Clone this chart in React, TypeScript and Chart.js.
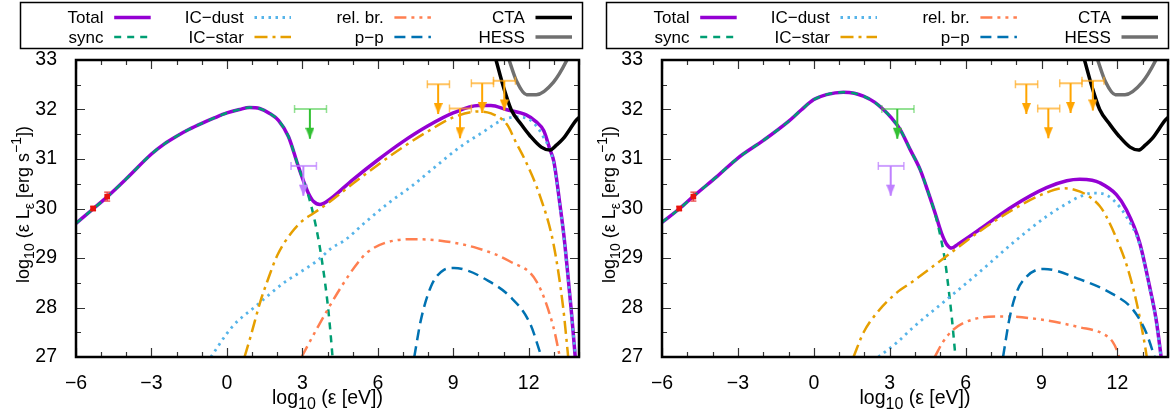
import React, { useEffect, useRef } from 'react';
import { Chart, registerables } from 'chart.js';
Chart.register(...registerables);

const FONT = '"Liberation Sans", Arial, Helvetica, sans-serif';

// ---------- axes ----------
const xMin = -6, xMax = 14, yMin = 27, yMax = 33;
const xTicks = [-6, -3, 0, 3, 6, 9, 12];
const yTicks = [27, 28, 29, 30, 31, 32, 33];
const xMinorStep = 1, yMinorStep = 0.5;

// ---------- text ----------
const legendLabels = ['Total', 'sync', 'IC\u2212dust', 'IC\u2212star', 'rel. br.', 'p\u2212p', 'CTA', 'HESS'];
const yTitle: [string, string][] = [['log', 'n'], ['10', 'sub'], [' (\u03b5 L', 'n'], ['\u03b5', 'sub'], [' [erg s', 'n'], ['\u22121', 'sup'], ['])', 'n']];
const xTitle: [string, string][] = [['log', 'n'], ['10', 'sub'], [' (\u03b5 [eV])', 'n']];

// ---------- left panel ----------
const totalL_x = [-6, -5.3, -4.75, -4, -3, -2.5, -2, -1.5, -1, -0.5, 0, 0.5, 0.9, 1.3, 1.7, 2.05, 2.45, 2.84, 3.05, 3.24, 3.45, 3.7, 4.0, 5, 6, 7, 8, 9, 10, 10.5, 11.1, 11.9, 12.3, 12.6, 12.84, 13.0, 13.25, 13.4, 13.55, 13.7, 13.85];
const totalL_y = [29.7, 30.0, 30.24, 30.6, 31.1, 31.3, 31.46, 31.6, 31.72, 31.83, 31.93, 32.0, 32.04, 32.02, 31.92, 31.78, 31.45, 30.85, 30.55, 30.31, 30.14, 30.08, 30.15, 30.58, 30.98, 31.35, 31.67, 31.93, 32.08, 32.08, 32.0, 31.89, 31.75, 31.57, 31.2, 30.95, 30.05, 29.45, 28.7, 27.9, 27.0];
const syncL_x = [-6, -5.3, -4.75, -4, -3, -2.5, -2, -1.5, -1, -0.5, 0, 0.5, 0.9, 1.3, 1.7, 2.05, 2.45, 2.84, 3.05, 3.24, 3.45, 3.65, 3.85, 4.0, 4.1, 4.2];
const syncL_y = [29.7, 30.0, 30.24, 30.6, 31.1, 31.3, 31.46, 31.6, 31.72, 31.83, 31.93, 32.0, 32.04, 32.02, 31.92, 31.78, 31.45, 30.85, 30.54, 30.26, 29.85, 29.35, 28.7, 28.1, 27.6, 27.0];
const dustL_x = [-0.64, 0.21, 1.13, 2.32, 2.84, 3.63, 4.16, 4.69, 5.5, 6.4, 7.32, 8.3, 9.29, 10.2, 10.7, 11.13, 11.5, 12.05, 12.58, 12.98, 13.25, 13.4, 13.55, 13.7, 13.86];
const dustL_y = [27.0, 27.61, 28.02, 28.52, 28.69, 28.96, 29.2, 29.36, 29.72, 30.1, 30.44, 30.85, 31.25, 31.55, 31.72, 31.82, 31.85, 31.79, 31.45, 30.95, 30.02, 29.42, 28.67, 27.87, 27.0];
const starL_x = [0.7, 0.94, 1.33, 1.6, 2.0, 2.58, 3.0, 3.43, 4, 5, 6, 7, 8, 9, 10, 10.5, 11.13, 11.5, 11.92, 12.45, 12.98, 13.37, 13.57];
const starL_y = [27.0, 27.41, 28.12, 28.52, 29.05, 29.52, 29.75, 29.9, 30.1, 30.5, 30.88, 31.24, 31.56, 31.84, 31.96, 31.92, 31.7, 31.33, 30.91, 30.25, 29.3, 28.0, 27.0];
const relL_x = [2.97, 3.63, 4.55, 5.2, 5.6, 6.26, 7.32, 8.5, 9.95, 11.26, 12.32, 12.98, 13.24];
const relL_y = [27.0, 27.62, 28.42, 28.9, 29.12, 29.3, 29.38, 29.35, 29.2, 28.93, 28.52, 27.61, 27.0];
const ppL_x = [7.45, 7.71, 8.11, 8.63, 9.03, 9.6, 10.21, 11.26, 12.05, 12.51];
const ppL_y = [27.0, 27.74, 28.42, 28.76, 28.8, 28.74, 28.59, 28.22, 27.68, 27.0];

// ---------- right panel ----------
const totalR_x = [-6, -5.3, -4.75, -3.82, -3, -1.98, -1, -0.5, 0, 0.5, 1.17, 1.6, 1.96, 2.4, 2.75, 3.05, 3.41, 3.8, 4.2, 4.5, 4.8, 5.05, 5.25, 5.45, 5.7, 6.56, 7.88, 9.2, 10.0, 10.51, 11.0, 11.3, 11.96, 12.35, 12.88, 13.27, 13.53, 13.73];
const totalR_y = [29.72, 30.0, 30.25, 30.65, 31.02, 31.38, 31.76, 31.99, 32.2, 32.3, 32.35, 32.33, 32.27, 32.15, 32.0, 31.84, 31.6, 31.2, 30.79, 30.36, 29.9, 29.5, 29.28, 29.2, 29.28, 29.58, 30.05, 30.42, 30.56, 30.59, 30.57, 30.52, 30.28, 29.98, 29.31, 28.43, 27.76, 27.0];
const syncR_x = [-6, -5.3, -4.75, -3.82, -3, -1.98, -1, -0.5, 0, 0.5, 1.17, 1.6, 1.96, 2.4, 2.75, 3.05, 3.41, 3.8, 4.2, 4.5, 4.8, 5.05, 5.2, 5.31, 5.45, 5.6];
const syncR_y = [29.72, 30.0, 30.25, 30.65, 31.02, 31.38, 31.76, 31.99, 32.2, 32.3, 32.35, 32.33, 32.27, 32.15, 32.0, 31.84, 31.6, 31.2, 30.79, 30.36, 29.88, 29.33, 28.9, 28.45, 27.82, 27.0];
const dustR_x = [2.55, 3.28, 3.93, 5.25, 6.56, 7.88, 9.2, 10.0, 10.51, 11.03, 11.4, 11.82, 12.35, 12.88, 13.27, 13.53, 13.72];
const dustR_y = [27.0, 27.29, 27.6, 28.16, 28.72, 29.31, 29.84, 30.1, 30.24, 30.31, 30.3, 30.18, 29.84, 29.27, 28.4, 27.73, 27.0];
const starR_x = [1.57, 1.96, 2.49, 3.28, 3.9, 5.25, 6.56, 7.88, 9.2, 9.9, 10.3, 10.77, 11.3, 11.56, 12.09, 12.4, 12.75, 13.1, 13.16];
const starR_y = [27.0, 27.49, 27.89, 28.3, 28.52, 29.04, 29.54, 29.98, 30.32, 30.41, 30.38, 30.28, 30.05, 29.84, 29.24, 28.8, 28.12, 27.2, 27.0];
const relR_x = [4.78, 5.1, 5.51, 6.3, 7.48, 8.93, 10.51, 11.43, 11.82, 12.02, 12.06];
const relR_y = [27.0, 27.3, 27.55, 27.76, 27.82, 27.76, 27.6, 27.47, 27.3, 27.08, 27.0];
const ppR_x = [7.48, 7.75, 8.05, 8.4, 8.8, 9.1, 10.51, 11.82, 12.61, 13.14, 13.47];
const ppR_y = [27.0, 27.82, 28.35, 28.62, 28.76, 28.78, 28.57, 28.27, 27.96, 27.49, 27.0];

// ---------- sensitivities (both panels) ----------
const cta_x = [10.7, 11.0, 11.3, 11.7, 12.05, 12.5, 12.84, 13.1, 13.37, 13.9, 14.0];
const cta_y = [33.0, 32.45, 32.0, 31.7, 31.47, 31.24, 31.18, 31.28, 31.41, 31.79, 31.84];
const hess_x = [11.22, 11.53, 11.92, 12.3, 12.98, 13.5, 13.56];
const hess_y = [33.0, 32.56, 32.3, 32.3, 32.55, 32.98, 33.05];

// ---------- measurements (both panels) ----------
const obs_x = [-5.32, -4.76];
const obs_y = [30.0, 30.24];
const obs_err = [0.04, 0.09];

// ---------- upper limits (both panels) ----------
const ulGreen = { x: [3.3], lo: [2.69], hi: [3.96], y: [32.01] };
const ulViolet = { x: [3.04], lo: [2.55], hi: [3.56], y: [30.86] };
const ulOrange = { x: [8.4, 9.27, 10.15, 11.03], lo: [7.97, 8.85, 9.72, 10.6], hi: [8.85, 9.72, 10.6, 11.47], y: [32.51, 32.02, 32.53, 32.58] };
const ulDrop = 0.6;

// ---------- styles ----------
type St = { color: string; width: number; dash: number[] };
const styles: St[] = [
  { color: '#9400d3', width: 3.5, dash: [] },          // Total
  { color: '#009e73', width: 2.5, dash: [7, 6] },      // sync
  { color: '#56b4e9', width: 2.8, dash: [2.5, 4.5] },  // IC-dust
  { color: '#e69f00', width: 2.5, dash: [13, 5, 3, 5] }, // IC-star
  { color: '#ff7f50', width: 2.5, dash: [12, 5, 3, 5, 3, 5] }, // rel. br.
  { color: '#0072b2', width: 2.5, dash: [11, 6] },     // p-p
  { color: '#000000', width: 3.5, dash: [] },          // CTA
  { color: '#707070', width: 3.5, dash: [] },          // HESS
];

const pts = (xs: number[], ys: number[]) => xs.map((x, i) => ({ x, y: ys[i] }));
const fmt = (v: number) => (v < 0 ? '\u2212' + Math.abs(v) : String(v));

function arrowImage(color: string) {
  const c = document.createElement('canvas');
  c.width = 9; c.height = 24;
  const g = c.getContext('2d')!;
  g.fillStyle = color;
  g.beginPath(); g.moveTo(0, 1); g.lineTo(9, 1); g.lineTo(4.5, 12); g.closePath(); g.fill();
  return c;
}

function curve(xs: number[], ys: number[], st: St, order: number): any {
  return {
    type: 'line', data: pts(xs, ys), borderColor: st.color, borderWidth: st.width, borderDash: st.dash,
    borderCapStyle: 'butt', pointRadius: 0, fill: false, cubicInterpolationMode: 'monotone', order, clip: 1,
  };
}

function limits(ul: { x: number[]; lo: number[]; hi: number[]; y: number[] }, barColor: string, color: string): any[] {
  const img = arrowImage(color);
  const out: any[] = [];
  ul.x.forEach((x, i) => {
    const y = ul.y[i];
    out.push({
      type: 'line', data: [{ x: ul.lo[i], y }, { x: ul.hi[i], y }], borderColor: barColor, borderWidth: 2,
      pointStyle: 'line', pointRadius: 4, pointRotation: 90, pointBorderColor: barColor, pointBorderWidth: 1.5, order: 5,
    });
    out.push({
      type: 'line', data: [{ x, y }, { x, y: y - ulDrop }], borderColor: color, borderWidth: 2,
      pointRadius: [0, 5], pointStyle: img, order: 4,
    });
  });
  return out;
}

function observations(): any[] {
  const out: any[] = [];
  obs_x.forEach((x, i) => {
    out.push({
      type: 'line', data: [{ x, y: obs_y[i] - obs_err[i] }, { x, y: obs_y[i] + obs_err[i] }],
      borderColor: 'rgba(235,60,60,0.85)', borderWidth: 1.5, pointStyle: 'line', pointRadius: 3,
      pointBorderColor: 'rgba(235,60,60,0.85)', pointBorderWidth: 1.5, order: 3,
    });
  });
  out.push({
    type: 'line', data: pts(obs_x, obs_y), showLine: false, pointStyle: 'rect', pointRadius: 4,
    pointBackgroundColor: '#e8120c', pointBorderColor: '#e8120c', pointBorderWidth: 0, order: 2,
  });
  return out;
}

function drawRich(ctx: CanvasRenderingContext2D, segs: [string, string][], cx: number, by: number, size: number) {
  const main = `${size}px ${FONT}`, small = `${Math.round(size * 0.8)}px ${FONT}`;
  let total = 0;
  const widths = segs.map(([t, k]) => { ctx.font = k === 'n' ? main : small; const w = ctx.measureText(t).width; total += w; return w; });
  let x = cx - total / 2;
  ctx.textAlign = 'left'; ctx.textBaseline = 'alphabetic'; ctx.fillStyle = '#000';
  segs.forEach(([t, k], i) => {
    ctx.font = k === 'n' ? main : small;
    const dy = k === 'sub' ? 5 : k === 'sup' ? -8 : 0;
    ctx.fillText(t, x, by + dy);
    x += widths[i];
  });
}

const decor = {
  id: 'decor',
  afterDraw(chart: any) {
    const ctx: CanvasRenderingContext2D = chart.ctx;
    const { left, right, top, bottom } = chart.chartArea;
    const sx = chart.scales.x, sy = chart.scales.y;
    ctx.save();
    // ticks (mirrored, inward)
    ctx.strokeStyle = '#333'; ctx.lineWidth = 1.2; ctx.setLineDash([]);
    ctx.beginPath();
    for (let v = xMin; v <= xMax + 1e-9; v += xMinorStep) {
      const p = Math.round(sx.getPixelForValue(v)) + 0.5;
      const len = xTicks.includes(v) ? 9 : 5;
      ctx.moveTo(p, bottom); ctx.lineTo(p, bottom - len);
      ctx.moveTo(p, top); ctx.lineTo(p, top + len);
    }
    for (let v = yMin; v <= yMax + 1e-9; v += yMinorStep) {
      const p = Math.round(sy.getPixelForValue(v)) + 0.5;
      const len = yTicks.includes(v) ? 9 : 5;
      ctx.moveTo(left, p); ctx.lineTo(left + len, p);
      ctx.moveTo(right, p); ctx.lineTo(right - len, p);
    }
    ctx.stroke();
    // frame
    ctx.strokeStyle = '#000'; ctx.lineWidth = 2.5;
    ctx.strokeRect(left, top, right - left, bottom - top);
    // legend
    ctx.lineWidth = 1.5;
    ctx.strokeRect(20.5, 2.5, 562, 46);
    const colEnds = [103.5, 243.8, 383.7, 524.8];
    const rows = [17.5, 37];
    ctx.font = `17px ${FONT}`; ctx.textAlign = 'right'; ctx.textBaseline = 'middle'; ctx.fillStyle = '#000';
    legendLabels.forEach((lab, i) => {
      const cx = colEnds[Math.floor(i / 2)], ry = rows[i % 2];
      ctx.fillText(lab, cx, ry + 1);
      const st = styles[i];
      ctx.save();
      ctx.strokeStyle = st.color; ctx.lineWidth = st.width; ctx.setLineDash(st.dash); ctx.lineCap = 'butt';
      ctx.beginPath(); ctx.moveTo(cx + 10.7, ry); ctx.lineTo(cx + 47.2, ry); ctx.stroke();
      ctx.restore();
    });
    // axis titles
    drawRich(ctx, xTitle, (left + right) / 2, 404, 19.5);
    ctx.save();
    ctx.translate(29, (top + bottom) / 2 - 4);
    ctx.rotate(-Math.PI / 2);
    drawRich(ctx, yTitle, 0, 0, 18);
    ctx.restore();
    ctx.restore();
  },
};

type Panel = { total: number[][]; sync: number[][]; dust: number[][]; star: number[][]; rel: number[][]; pp: number[][] };

function build(canvas: HTMLCanvasElement, width: number, p: Panel) {
  const datasets: any[] = [
    curve(p.total[0], p.total[1], styles[0], 20),
    curve(p.sync[0], p.sync[1], styles[1], 19),
    curve(p.dust[0], p.dust[1], styles[2], 18),
    curve(p.star[0], p.star[1], styles[3], 17),
    curve(p.rel[0], p.rel[1], styles[4], 16),
    curve(p.pp[0], p.pp[1], styles[5], 15),
    curve(cta_x, cta_y, styles[6], 14),
    curve(hess_x, hess_y, styles[7], 13),
    ...limits(ulGreen, 'rgba(60,200,60,0.55)', '#33c133'),
    ...limits(ulViolet, 'rgba(190,130,255,0.75)', '#bf80ff'),
    ...limits(ulOrange, 'rgba(255,170,30,0.7)', '#ffa500'),
    ...observations(),
  ];
  const tickFont = { family: FONT, size: 19.5 };
  return new Chart(canvas, {
    type: 'line',
    data: { datasets },
    options: {
      responsive: false, animation: false, devicePixelRatio: 1, events: [],
      layout: { padding: { left: 0, right: width - 582, top: 60, bottom: 0 } },
      plugins: { legend: { display: false }, tooltip: { enabled: false } },
      scales: {
        x: {
          type: 'linear', min: xMin, max: xMax,
          grid: { display: false }, border: { display: false },
          afterBuildTicks: (s: any) => { s.ticks = xTicks.map((v) => ({ value: v })); },
          afterFit: (s: any) => { s.height = 59; },
          ticks: { font: tickFont, color: '#000', padding: 7, maxRotation: 0, autoSkip: false, callback: (v: any) => fmt(Number(v)) },
        },
        y: {
          type: 'linear', min: yMin, max: yMax,
          grid: { display: false }, border: { display: false },
          afterBuildTicks: (s: any) => { s.ticks = yTicks.map((v) => ({ value: v })); },
          afterFit: (s: any) => { s.width = 76; },
          ticks: { font: tickFont, color: '#000', padding: 11, autoSkip: false, callback: (v: any) => fmt(Number(v)) },
        },
      },
    } as any,
    plugins: [decor],
  });
}

const leftPanel: Panel = {
  total: [totalL_x, totalL_y], sync: [syncL_x, syncL_y], dust: [dustL_x, dustL_y],
  star: [starL_x, starL_y], rel: [relL_x, relL_y], pp: [ppL_x, ppL_y],
};
const rightPanel: Panel = {
  total: [totalR_x, totalR_y], sync: [syncR_x, syncR_y], dust: [dustR_x, dustR_y],
  star: [starR_x, starR_y], rel: [relR_x, relR_y], pp: [ppR_x, ppR_y],
};

const W1 = 586, W2 = 589, H = 416;

export default function App() {
  const c1 = useRef<HTMLCanvasElement>(null);
  const c2 = useRef<HTMLCanvasElement>(null);
  useEffect(() => {
    const a = build(c1.current!, W1, leftPanel);
    const b = build(c2.current!, W2, rightPanel);
    return () => { a.destroy(); b.destroy(); };
  }, []);
  return (
    <div style={{ position: 'fixed', left: 0, top: 0, width: 1175, height: H, background: '#fff' }}>
      <canvas ref={c1} width={W1} height={H} style={{ position: 'absolute', left: 0, top: 0, width: W1, height: H }} />
      <canvas ref={c2} width={W2} height={H} style={{ position: 'absolute', left: W1, top: 0, width: W2, height: H }} />
    </div>
  );
}
